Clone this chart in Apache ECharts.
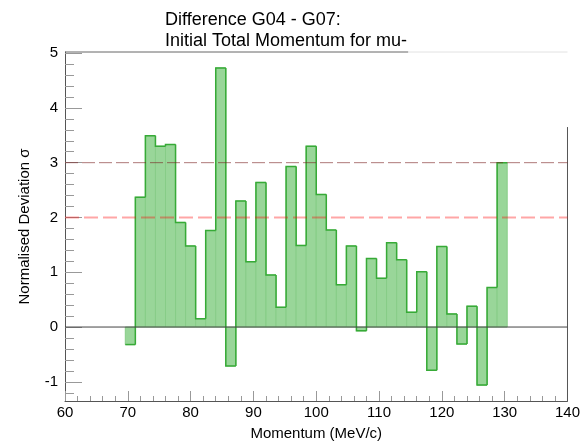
<!DOCTYPE html>
<html><head><meta charset="utf-8">
<script src="https://cdn.jsdelivr.net/npm/echarts@6/dist/echarts.min.js"></script>
<style>html,body{margin:0;padding:0;background:#fff}#c{width:583px;height:446px}</style>
</head><body><div id="c"></div>
<script>
// ---- data ----
const binCenters = [70.4, 72.0, 73.6, 75.2, 76.8, 78.4, 80.0, 81.6, 83.2, 84.8,
  86.4, 88.0, 89.6, 91.2, 92.8, 94.4, 96.0, 97.6, 99.2, 100.8,
  102.4, 104.0, 105.6, 107.2, 108.8, 110.4, 112.0, 113.6, 115.2, 116.8,
  118.4, 120.0, 121.6, 123.2, 124.8, 126.4, 128.0, 129.6];
const binWidth = 1.6;
const deviations = [-0.32, 2.37, 3.49, 3.30, 3.33, 1.91, 1.48, 0.15, 1.76, 4.73,
  -0.71, 2.30, 1.19, 2.64, 0.95, 0.36, 2.93, 1.49, 3.30, 2.42,
  1.77, 0.77, 1.48, -0.07, 1.25, 0.89, 1.54, 1.23, 0.27, 1.01,
  -0.79, 1.47, 0.24, -0.31, 0.38, -1.06, 0.72, 3.00];
const xTicks = [60, 70, 80, 90, 100, 110, 120, 130, 140];
const yTicks = [-1, 0, 1, 2, 3, 4, 5];
const yRange = [-1.35, 5.02];
const zeroLevel = 0;
const sigma3Level = 3;
const sigma2Level = 2;
const titleLines = ['Difference G04 - G07:', 'Initial Total Momentum for mu-'];
const xName = 'Momentum (MeV/c)';
const yName = 'Normalised Deviation \u03c3';

// ---- derived ----
const yMinorTicks = [];
for (let k = Math.ceil(yRange[0] * 5); k <= Math.floor(yRange[1] * 5); k++) yMinorTicks.push(+(k / 5).toFixed(1));
const binData = binCenters.map((c, i) => [c, deviations[i], i > 0 ? deviations[i - 1] : deviations[i], i === 0 ? 1 : 0]);
const xMin = xTicks[0], xMax = xTicks[xTicks.length - 1];

const FONT = 'Liberation Sans, Arial, Helvetica, sans-serif';
const fillColor = 'rgb(153,214,153)';
const edgeColor = 'rgb(135,205,135)';
const outlineColor = 'rgb(55,170,55)';

function renderFill(params, api) {
  const c = api.value(0), v = api.value(1);
  const p0 = api.coord([c - binWidth / 2, 0]);
  const p1 = api.coord([c + binWidth / 2, v]);
  return {
    type: 'rect',
    shape: { x: Math.min(p0[0], p1[0]), y: Math.min(p0[1], p1[1]), width: Math.abs(p1[0] - p0[0]), height: Math.abs(p1[1] - p0[1]) },
    style: { fill: fillColor, stroke: edgeColor, lineWidth: 1 }
  };
}
function renderOutline(params, api) {
  const c = api.value(0), v = api.value(1), prev = api.value(2), first = api.value(3);
  const x0 = c - binWidth / 2, x1 = c + binWidth / 2;
  const pts = [];
  if (!first) pts.push(api.coord([x0, prev]));
  pts.push(api.coord([x0, v]), api.coord([x1, v]));
  return { type: 'polyline', shape: { points: pts }, style: { stroke: outlineColor, lineWidth: 1.5, fill: null } };
}

const chart = echarts.init(document.getElementById('c'), null, { renderer: 'canvas' });
const gridPos = { left: 65, right: 13, top: 52, bottom: 43 };
chart.setOption({
  animation: false,
  backgroundColor: '#fff',
  title: {
    text: titleLines.join('\n'), left: 160, top: 5,
    textStyle: { fontFamily: FONT, fontSize: 18, fontWeight: 'normal', color: '#000', lineHeight: 21 }
  },
  grid: gridPos,
  xAxis: {
    type: 'value', min: xMin, max: xMax, interval: 10,
    name: xName, nameLocation: 'middle', nameGap: 25,
    nameTextStyle: { fontFamily: FONT, fontSize: 15, color: '#000' },
    axisLine: { show: true, onZero: false, lineStyle: { color: '#555', width: 1 } },
    axisTick: { show: true, inside: true, length: 10, lineStyle: { color: '#999' } },
    minorTick: { show: true, splitNumber: 5, length: 5, lineStyle: { color: '#999' } },
    axisLabel: { fontFamily: FONT, fontSize: 15, color: '#000', margin: 4 },
    splitLine: { show: false }, minorSplitLine: { show: false }
  },
  yAxis: [{
    type: 'value', min: yRange[0], max: yRange[1],
    name: yName, nameLocation: 'middle', nameGap: 33, nameRotate: 90,
    nameTextStyle: { fontFamily: FONT, fontSize: 15, color: '#000' },
    axisLine: { show: true, onZero: false, lineStyle: { color: '#555', width: 1 } },
    axisTick: { show: true, inside: true, length: 17, customValues: yTicks, lineStyle: { color: '#999' } },
    axisLabel: { fontFamily: FONT, fontSize: 15, color: '#000', margin: 7, customValues: yTicks },
    splitLine: { show: false }
  }, {
    type: 'value', min: yRange[0], max: yRange[1], position: 'left', offset: 0,
    axisLine: { show: false, onZero: false },
    axisTick: { show: true, inside: true, length: 9, customValues: yMinorTicks, lineStyle: { color: '#999' } },
    axisLabel: { show: false },
    splitLine: { show: false }
  }],
  series: [
    { type: 'custom', renderItem: renderFill, data: binData, z: 2, silent: true, encode: { x: 0, y: 1 } },
    { type: 'custom', renderItem: renderOutline, data: binData, z: 3, silent: true, encode: { x: 0, y: 1 } },
    { type: 'line', data: [[xMin, zeroLevel], [xMax, zeroLevel]], symbol: 'none', silent: true, zlevel: 1, z: 4,
      lineStyle: { color: '#444', width: 1 } },
    { type: 'line', data: [[xMin, sigma3Level], [xMax, sigma3Level]], symbol: 'none', silent: true, zlevel: 1, z: 5,
      lineStyle: { color: 'rgba(120,30,30,0.6)', width: 1, type: [13, 4] } },
    { type: 'line', data: [[xMin, sigma2Level], [xMax, sigma2Level]], symbol: 'none', silent: true, zlevel: 1, z: 5,
      lineStyle: { color: 'rgba(255,0,0,0.35)', width: 2, type: [14, 5] } }
  ]
});

// frame pieces (top border partly hidden by title box, right border partly hidden)
const tl = chart.convertToPixel({ gridIndex: 0 }, [xMin, yRange[1]]);
const tm = chart.convertToPixel({ gridIndex: 0 }, [114.65, yRange[1]]);
const tr = chart.convertToPixel({ gridIndex: 0 }, [xMax, yRange[1]]);
const rm = chart.convertToPixel({ gridIndex: 0 }, [xMax, 3.65]);
const br = chart.convertToPixel({ gridIndex: 0 }, [xMax, yRange[0]]);
chart.setOption({
  graphic: [
    { type: 'line', shape: { x1: tl[0], y1: tl[1], x2: tm[0], y2: tm[1] }, style: { stroke: '#666', lineWidth: 1 }, z: 10 },
    { type: 'line', shape: { x1: tm[0], y1: tm[1], x2: tr[0], y2: tr[1] }, style: { stroke: '#e2e2e2', lineWidth: 1 }, z: 10 },
    { type: 'line', shape: { x1: rm[0], y1: rm[1], x2: br[0], y2: br[1] }, style: { stroke: '#555', lineWidth: 1 }, z: 10 }
  ]
});
</script>
</body></html>
